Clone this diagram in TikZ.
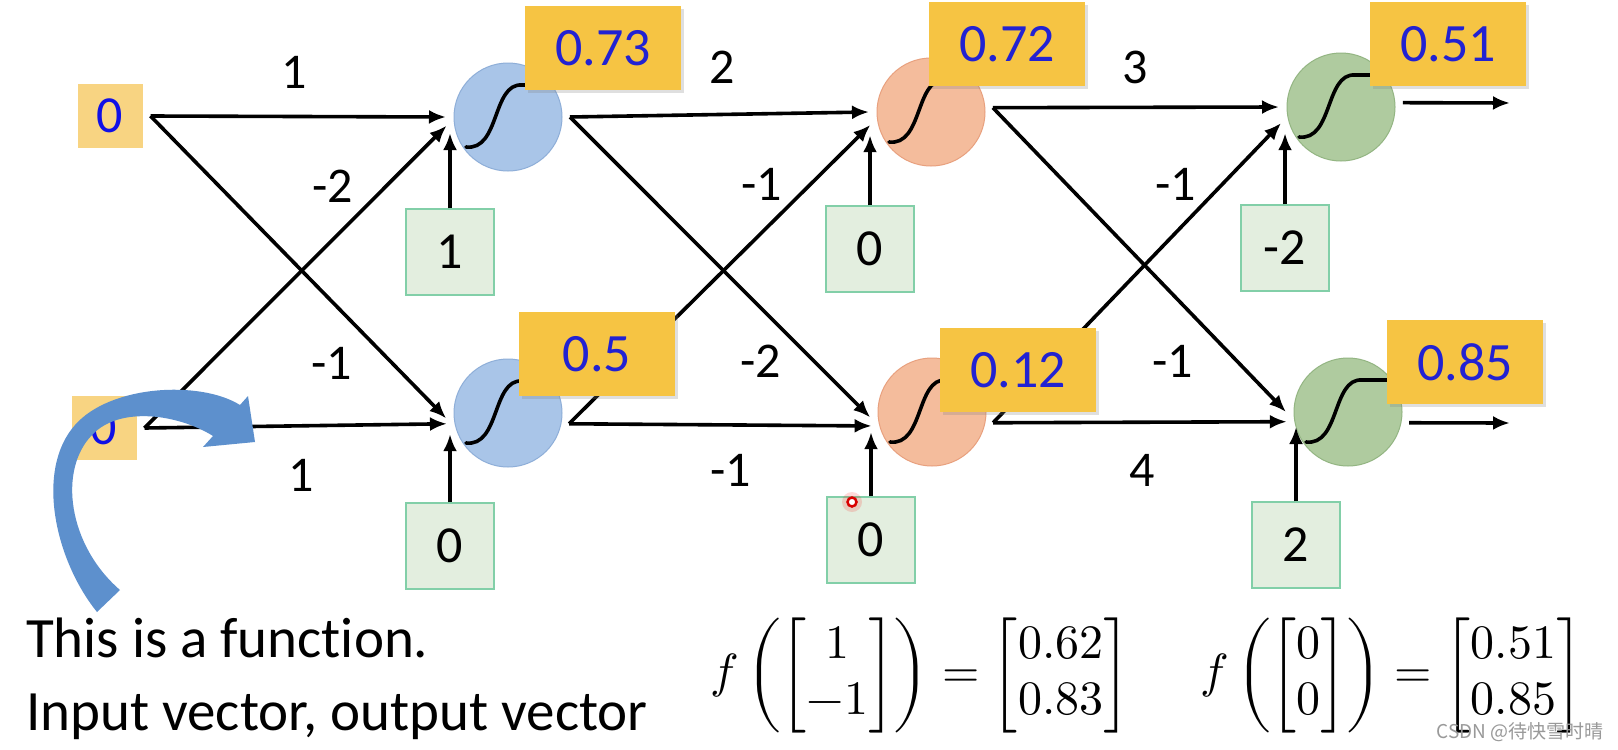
\documentclass[tikz,border=0pt]{standalone}
\usepackage{amsmath}
\usepackage{fontspec}
\usepackage{unicode-math}
\setmainfont{Carlito}[Ligatures=NoCommon]
\newfontfamily\cjk{Noto Sans CJK SC}
\usepackage{tikz}
\usetikzlibrary{calc,arrows.meta,shadows}
\definecolor{nblue}{HTML}{A9C5E8}
\definecolor{nblueb}{HTML}{8EAED8}
\definecolor{norange}{HTML}{F4BC9C}
\definecolor{norangeb}{HTML}{E8A07E}
\definecolor{ngreen}{HTML}{AFCB9F}
\definecolor{ngreenb}{HTML}{93B582}
\definecolor{gold}{HTML}{F6C443}
\definecolor{lgold}{HTML}{F8D482}
\definecolor{valblue}{HTML}{2222D2}
\definecolor{inblue}{HTML}{1010E6}
\definecolor{bgreen}{HTML}{E3EEDF}
\definecolor{bgreenb}{HTML}{82CFA8}
\definecolor{arrowblue}{HTML}{5D90CD}
\tikzset{
  neuron/.style={circle, minimum size=108pt, inner sep=0pt, outer sep=8pt, line width=1pt},
  nA/.style={neuron, fill=nblue, draw=nblueb},
  nB/.style={neuron, fill=norange, draw=norangeb},
  nC/.style={neuron, fill=ngreen, draw=ngreenb},
  valbox/.style={fill=gold, minimum width=156pt, minimum height=84pt, text=valblue,
    font=\fontsize{54}{60}\selectfont,
    drop shadow={opacity=0.25, shadow xshift=3pt, shadow yshift=-3pt}},
  inbox/.style={fill=lgold, minimum width=65pt, minimum height=64pt, outer sep=8pt,
    text=inblue, font=\fontsize{52}{58}\selectfont},
  biasbox/.style={fill=bgreen, draw=bgreenb, line width=1.2pt, minimum width=88pt,
    minimum height=86pt, font=\fontsize{52}{58}\selectfont},
  wlab/.style={font=\fontsize{50}{56}\selectfont},
  edge/.style={line width=3.6pt, -{Latex[length=17pt,width=14pt]}},
  sigline/.style={line width=3.6pt, line cap=round},
  note/.style={inner sep=0pt, font=\fontsize{57}{64}\selectfont},
  formula/.style={inner sep=0pt, font=\fontsize{48}{56}\selectfont}
}

\begin{document}
\begin{tikzpicture}[x=1pt,y=-1pt]
  \fill[white] (0,0) rectangle (1618,750);
  \useasboundingbox (0,0) rectangle (1618,750);

  % inputs
  \node[inbox] (in1) at (110,116) {0};
  \node[inbox] (in2) at (104,428) {0};

  % neurons
  \node[nA] (h11) at (508,117) {};
  \node[nA] (h12) at (508,413) {};
  \node[nB] (h21) at (931,112) {};
  \node[nB] (h22) at (932,412) {};
  \node[nC] (h31) at (1341,107) {};
  \node[nC] (h32) at (1348,412) {};

  % biases
  \node[biasbox] (b11) at (450,252) {1};
  \node[biasbox] (b12) at (450,546) {0};
  \node[biasbox] (b21) at (870,249) {0};
  \node[biasbox] (b22) at (871,540) {0};
  \node[biasbox] (b31) at (1285,248) {-2};
  \node[biasbox] (b32) at (1296,545) {2};

  % layer 1
  \draw[edge] (in1.east) -- (h11.180);
  \draw[edge] (in1.east) -- (h12.185);
  \draw[edge] (in2.east) -- (h11.188);
  \draw[edge] (in2.east) -- (h12.190);
  \draw[edge] (b11.north) -- (b11.north |- h11.195);
  \draw[edge] (b12.north) -- (b12.north |- h12.200);

  % layer 2
  \draw[edge] (h11.0) -- (h21.180);
  \draw[edge] (h11.0) -- (h22.185);
  \draw[edge] (h12.350) -- (h21.192);
  \draw[edge] (h12.350) -- (h22.193);
  \draw[edge] (b21.north) -- (b21.north |- h21.202);
  \draw[edge] (b22.north) -- (b22.north |- h22.199);

  % layer 3
  \draw[edge] (h21.4) -- (h31.180);
  \draw[edge] (h21.4) -- (h32.180);
  \draw[edge] (h22.350) -- (h31.195);
  \draw[edge] (h22.350) -- (h32.189);
  \draw[edge] (b31.north) -- (b31.north |- h31.205);
  \draw[edge] (b32.north) -- (b32.north |- h32.194);

  \coordinate (y1) at (1510,103);
  \coordinate (y2) at (1510,423);
  \draw[edge] (h31.4) -- (y1);
  \draw[edge] (h32.350) -- (y2);

  % sigmoid curves
  \foreach \n in {h11,h12,h21,h22,h31,h32}
    \draw[sigline] ($(\n)+(-42,30)$) .. controls ($(\n)+(-8,34)$) and ($(\n)+(-16,-34)$) .. ($(\n)+(14,-32)$) -- ++(28,0);

  % outputs
  \node[valbox] (v11) at (603,48) {0.73};
  \node[valbox] (v12) at (597,354) {0.5};
  \node[valbox] (v21) at (1007,44) {0.72};
  \node[valbox] (v22) at (1018,370) {0.12};
  \node[valbox] (v31) at (1448,44) {0.51};
  \node[valbox] (v32) at (1465,362) {0.85};

  % weights
  \foreach \x/\y/\t [count=\i] in {294/72/1, 333/186/-2, 332/363/-1, 301/475/1,
      722/67/2, 762/184/-1, 761/361/-2, 731/470/-1,
      1135/67/3, 1176/184/-1, 1173/361/-1, 1142/470/4}
    \node[wlab] (w\i) at (\x,\y) {\t};

  % curved arrow
  \fill[arrowblue] (97,612) .. controls (55,560) and (35,470) .. (75,425)
    .. controls (110,385) and (200,380) .. (240,405) -- (248,396) -- (255,442)
    -- (203,447) -- (213,436) .. controls (180,415) and (120,405) .. (92,435)
    .. controls (58,470) and (68,545) .. (120,590) -- cycle;

  \fill[red, opacity=0.15] (852,502) circle (10);
  \draw[red!85!black, line width=2.5pt, fill=white] (852,502) circle (4.5);

  \node[note, anchor=base west] (t1) at (26,657) {This is a function.};
  \node[note, anchor=base west] (t2) at (26,730) {Input vector, output vector};

  \node[formula, anchor=west] (f1) at (710,675)
    {$f\left(\begin{bmatrix}1\\-1\end{bmatrix}\right)=\begin{bmatrix}0.62\\0.83\end{bmatrix}$};
  \node[formula, anchor=west] (f2) at (1200,675)
    {$f\left(\begin{bmatrix}0\\0\end{bmatrix}\right)=\begin{bmatrix}0.51\\0.85\end{bmatrix}$};

  \node[anchor=base east, inner sep=0pt, text=black!40, font=\cjk\fontsize{19}{21}\selectfont]
    (wm) at (1604,738) {CSDN @待快雪时晴};
\end{tikzpicture}
\end{document}
